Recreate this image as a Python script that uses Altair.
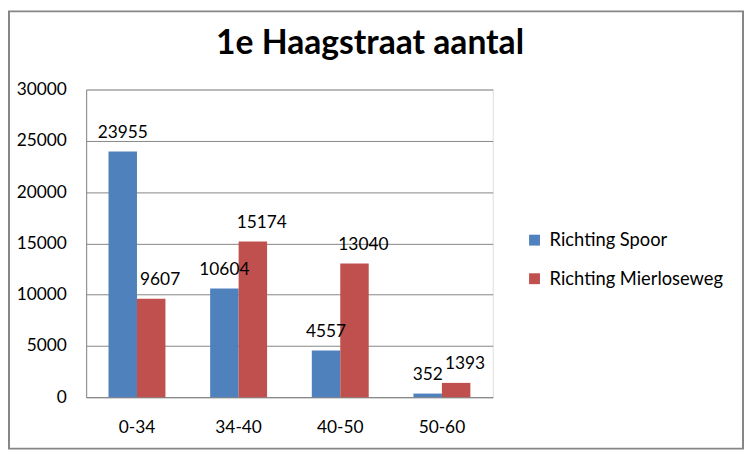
import altair as alt
import pandas as pd

categories = ["0-34", "34-40", "40-50", "50-60"]
series = ["Richting Spoor", "Richting Mierloseweg"]
spoor = [23955, 10604, 4557, 352]
mierloseweg = [9607, 15174, 13040, 1393]
colors = ["#4F81BD", "#C0504D"]
title_text = "1e Haagstraat aantal"

rows = []
for c, a, b in zip(categories, spoor, mierloseweg):
    rows.append({"cat": c, "series": series[0], "value": a})
    rows.append({"cat": c, "series": series[1], "value": b})
df = pd.DataFrame(rows)

FONT = "Lato"
GRAY = "#868686"
FS = 17.5

x = alt.X("cat:N", sort=categories, title=None,
          scale=alt.Scale(paddingInner=0.44, paddingOuter=0.22),
          axis=alt.Axis(labelAngle=0, ticks=False, labelFontSize=FS, labelPadding=22,
                        domainColor=GRAY, labelColor="black", labelFont=FONT))
xoff = alt.XOffset("series:N", sort=series)
y = alt.Y("value:Q", title=None, scale=alt.Scale(domain=[0, 30000]),
          axis=alt.Axis(values=list(range(0, 30001, 5000)), ticks=False, grid=True,
                        gridColor=GRAY, domainColor=GRAY, labelFontSize=FS, labelPadding=20,
                        labelColor="black", labelFont=FONT, format="d"))
color = alt.Color("series:N", sort=series,
                  scale=alt.Scale(domain=series, range=colors),
                  legend=alt.Legend(title=None, orient="none", legendX=444, legendY=143,
                                    symbolType="square", symbolSize=121, symbolStrokeWidth=0,
                                    labelFontSize=18.5, labelFont=FONT, labelColor="black",
                                    labelOffset=6, rowPadding=20, labelLimit=400))

base = alt.Chart(df)
bars = base.mark_bar().encode(x=x, xOffset=xoff, y=y, color=color)
labels_a = base.transform_filter(alt.datum.series == series[0]).mark_text(
    baseline="bottom", dy=-10, fontSize=FS, font=FONT, color="black").encode(
    x=x, xOffset=xoff, y=y, text=alt.Text("value:Q", format="d"))
labels_b = base.transform_filter(alt.datum.series == series[1]).mark_text(
    baseline="bottom", dy=-10, dx=9, fontSize=FS, font=FONT, color="black").encode(
    x=x, xOffset=xoff, y=y, text=alt.Text("value:Q", format="d"))

border = alt.Chart(pd.DataFrame({"a": [0]})).mark_rect(
    fillOpacity=0, stroke=GRAY, strokeWidth=2).encode(
    x=alt.value(-78), x2=alt.value(664), y=alt.value(-79), y2=alt.value(363))

title = alt.Chart(pd.DataFrame({"t": [title_text]})).mark_text(
    fontSize=34, font=FONT, fontWeight="bold", color="black", align="center",
    baseline="alphabetic").encode(x=alt.value(287), y=alt.value(-36), text="t:N")

chart = alt.layer(border, bars, labels_a, labels_b, title).properties(
    width=411, height=311,
    autosize=alt.AutoSizeParams(type="none"),
    padding={"left": 79, "top": 80, "right": 254, "bottom": 53},
).configure_view(stroke=None).configure(background="white")

chart.save("out.html", embed_options={"renderer": "svg", "actions": False})
